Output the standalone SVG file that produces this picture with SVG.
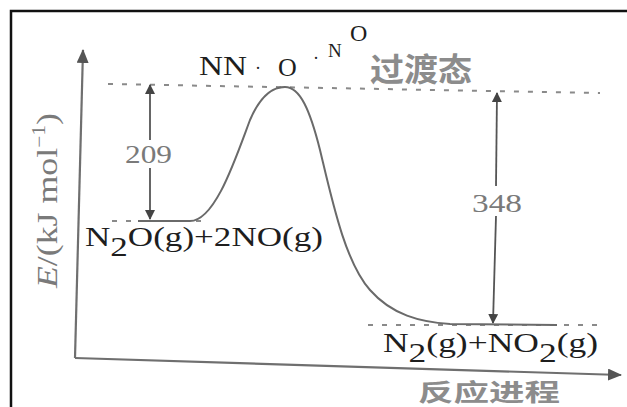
<svg xmlns="http://www.w3.org/2000/svg" width="627" height="407" viewBox="0 0 627 407">
<defs>
<style>
.ax{stroke:#6f6f6f;stroke-width:2.2;fill:none}
.dash{stroke:#8a8a8a;stroke-width:2;stroke-dasharray:5 9;fill:none}
.lvl{stroke:#6a6a6a;stroke-width:2;fill:none}
.arr{stroke:#555;stroke-width:1.8;fill:none}
.chem{font-family:"Liberation Serif","Times New Roman",serif;fill:#1e1e1e}
.num{font-family:"Liberation Serif","Times New Roman",serif;fill:#7a7a7a}
.cn{font-family:"Noto Sans CJK SC","Liberation Sans",sans-serif;fill:#8c8c8c;font-weight:bold}
</style>
<marker id="ah" markerWidth="10" markerHeight="10" refX="9" refY="5" orient="auto" markerUnits="userSpaceOnUse">
<path d="M0,0 L10,5 L0,10 Z" fill="#444"/>
</marker>
<marker id="axh" markerWidth="14" markerHeight="12" refX="13" refY="6" orient="auto" markerUnits="userSpaceOnUse">
<path d="M0,0 L14,6 L0,12 Z" fill="#555"/>
</marker>
</defs>
<rect width="627" height="407" fill="#fff"/>
<path d="M11,407 L11,11 L627,11" stroke="#111" stroke-width="2.5" fill="none"/>

<g id="axes">
<path class="ax" d="M75,358 L83,50" marker-end="url(#axh)"/>
<path class="ax" d="M75,358 L621,375" marker-end="url(#axh)"/>
<text class="num" transform="translate(57,288) rotate(-90)" font-size="30" textLength="175" lengthAdjust="spacingAndGlyphs"><tspan font-style="italic">E</tspan>/(kJ mol<tspan font-size="18" dy="-12">−1</tspan><tspan dy="12">)</tspan></text>
<text class="cn" x="418" y="401" font-size="24" textLength="142" lengthAdjust="spacingAndGlyphs">反应进程</text>
</g>

<g id="connectors">
<path class="dash" d="M108,84 L600,93"/>
<path class="dash" d="M112,221 L206,221"/>
<path class="dash" d="M368,325 L600,325"/>
<path class="arr" d="M150,140 L150,85" marker-end="url(#ah)"/>
<path class="arr" d="M150,168 L150,219" marker-end="url(#ah)"/>
<path class="arr" d="M496,186 L497,93" marker-end="url(#ah)"/>
<path class="arr" d="M496,216 L493,323" marker-end="url(#ah)"/>
</g>

<g id="curve">
<path class="lvl" d="M138,221 L190,221 C215,221 235,160 250,120 C262,92 275,87 285,87 C300,87 310,110 320,150 C332,200 345,262 370,290 C392,315 420,322 450,324 L557,325"/>
</g>

<g id="transition-state">
<text class="chem" x="199" y="75" font-size="27" textLength="48" lengthAdjust="spacingAndGlyphs">NN</text>
<text class="chem" x="255" y="74" font-size="18" fill="#666">·</text>
<text class="chem" x="278" y="76" font-size="26" fill="#444">O</text>
<text class="chem" x="313" y="64" font-size="18" fill="#666">·</text>
<text class="chem" x="328" y="57" font-size="19">N</text>
<text class="chem" x="350" y="41" font-size="24" fill="#444">O</text>
<text class="cn" x="370" y="81" font-size="32" textLength="102" lengthAdjust="spacingAndGlyphs">过渡态</text>
</g>

<g id="ea">
<text class="num" x="125" y="163" font-size="26" textLength="47" lengthAdjust="spacingAndGlyphs">209</text>
</g>
<g id="dh">
<text class="num" x="472" y="212" font-size="26" textLength="50" lengthAdjust="spacingAndGlyphs">348</text>
</g>

<g id="reactants">
<text class="chem" x="85" y="246" font-size="27" textLength="238" lengthAdjust="spacingAndGlyphs">N<tspan dy="10">2</tspan><tspan dy="-10">O(g)+2NO(g)</tspan></text>
</g>
<g id="products">
<text class="chem" x="383" y="352" font-size="27" textLength="215" lengthAdjust="spacingAndGlyphs">N<tspan dy="10">2</tspan><tspan dy="-10">(g)+NO</tspan><tspan dy="10">2</tspan><tspan dy="-10">(g)</tspan></text>
</g>
</svg>
